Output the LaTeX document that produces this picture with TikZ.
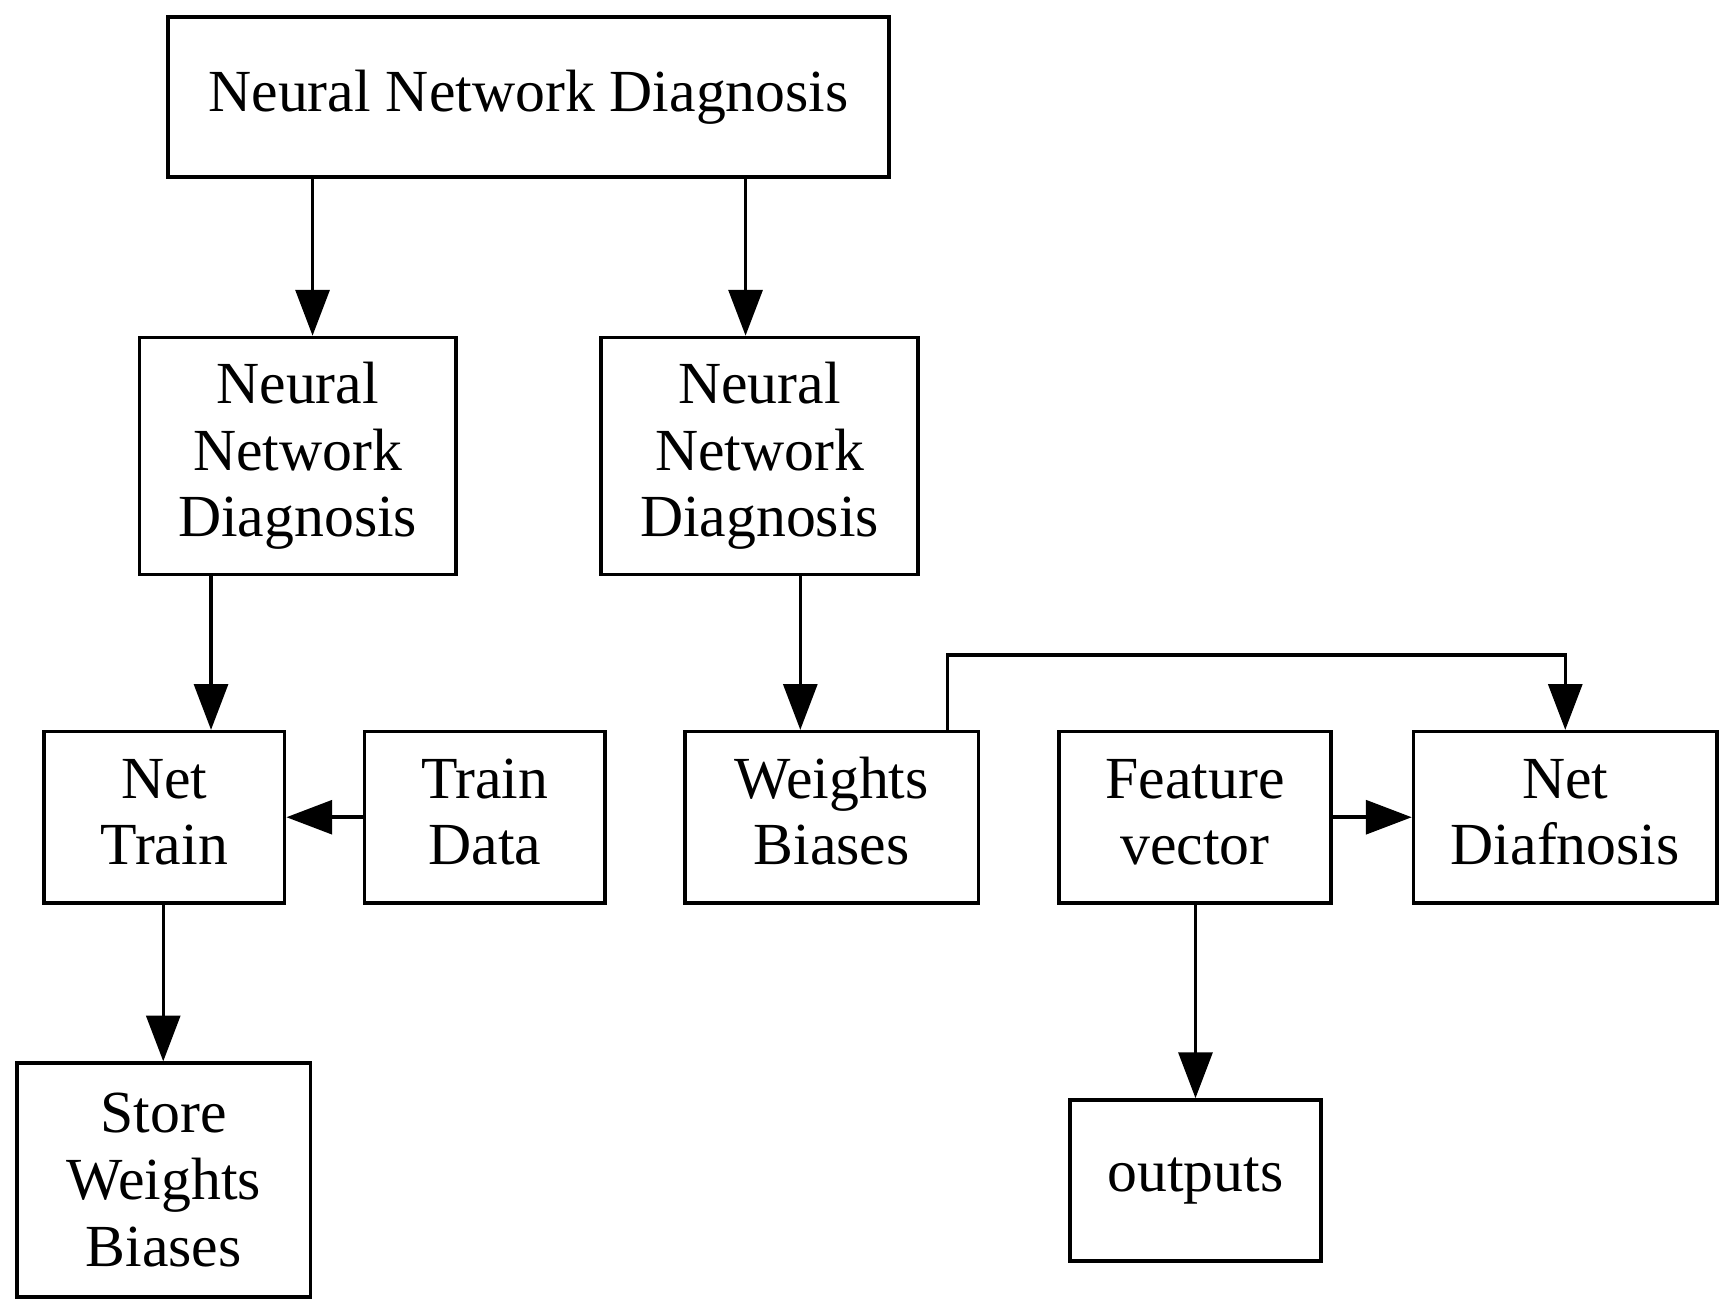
\documentclass[tikz,border=0pt]{standalone}
\usepackage{fontspec}
\setmainfont{Liberation Serif}
\usetikzlibrary{arrows.meta}
\newcommand{\uptwo}[2]{\raisebox{-1pt}[\height][\depth]{\begin{tabular}{@{}c@{}}#1\\#2\end{tabular}}}
\begin{document}
\begin{tikzpicture}[x=1pt,y=-1pt,
  box/.style={draw, line width=3.5pt, rectangle, align=center, inner sep=0pt,
    font=\fontsize{60}{67}\selectfont},
  conn/.style={line width=3.5pt, -{Triangle[length=46pt,width=34pt]}}]
\useasboundingbox (0,0) rectangle (1741,1322);
\node[box, minimum width=724pt, minimum height=161pt] (top) at (531,97.5) {Neural Network Diagnosis};
\node[box, minimum width=318pt, minimum height=238pt] (nnl) at (299,458) {Neural\\Network\\Diagnosis};
\node[box, minimum width=318pt, minimum height=238pt] (nnr) at (763,458) {Neural\\Network\\Diagnosis};
\node[box, minimum width=242pt, minimum height=172pt] (nt) at (165,821) {\uptwo{Net}{Train}};
\node[box, minimum width=242pt, minimum height=172pt] (td) at (487,821) {\uptwo{Train}{Data}};
\node[box, minimum width=295pt, minimum height=172pt] (wb) at (835.5,821) {\uptwo{Weights}{Biases}};
\node[box, minimum width=273pt, minimum height=172pt] (fv) at (1200.5,821) {\uptwo{Feature}{vector}};
\node[box, minimum width=305pt, minimum height=172pt] (nd) at (1572.5,821) {\uptwo{Net}{Diafnosis}};
\node[box, minimum width=295pt, minimum height=235pt] (st) at (164.5,1185.5) {Store\\Weights\\Biases};
\node[box, minimum width=252pt, minimum height=162pt] (out) at (1201,1186) {outputs};
\draw[conn] (top.south -| 314,0) -- (nnl.north -| 314,0);
\draw[conn] (top.south -| 749,0) -- (nnr.north -| 749,0);
\draw[conn] (nnl.south -| 212,0) -- (nt.north -| 212,0);
\draw[conn] (nnr.south -| 804,0) -- (wb.north -| 804,0);
\draw[conn] (nt.south -| 164,0) -- (st.north -| 164,0);
\draw[conn] (td.west) -- (nt.east);
\draw[conn] (fv.east) -- (nd.west);
\draw[conn] (fv.south -| 1201,0) -- (out.north -| 1201,0);
\coordinate (c1) at (952,658);
\draw[conn] (wb.north -| 952,0) -- (c1) -| (nd.north);
\end{tikzpicture}
\end{document}
